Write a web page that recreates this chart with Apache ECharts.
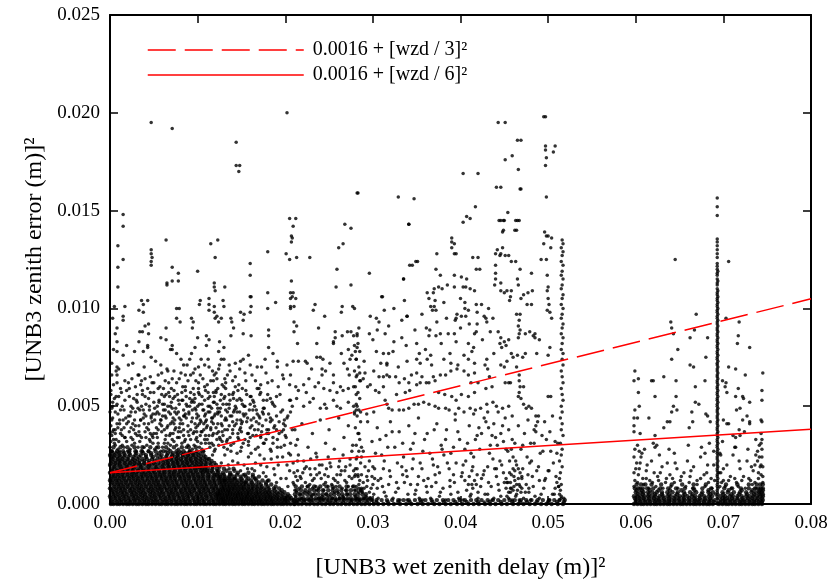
<!DOCTYPE html>
<html>
<head>
<meta charset="utf-8">
<script src="https://cdn.jsdelivr.net/npm/echarts@6/dist/echarts.min.js"></script>
<style>
  html, body { margin: 0; padding: 0; background: #fff; }
  #chart { width: 832px; height: 581px; }
</style>
</head>
<body>
<div id="chart"></div>
<script>
// All coordinates below are stored in units of 1e-4:
// x = [UNB3 wet zenith delay (m)]^2, y = [UNB3 zenith error (m)]^2
const UNIT = 1e-4;

const xTickLabels = ['0.00', '0.01', '0.02', '0.03', '0.04', '0.05', '0.06', '0.07', '0.08'];
const yTickLabels = ['0.000', '0.005', '0.010', '0.015', '0.020', '0.025'];

// Reference curves (straight lines in squared-delay space), values at x = 0 and x = 0.08
const curveX = [0, 0.08];
const curveThird = [0.0016, 0.01049];   // 0.0016 + [wzd / 3]^2
const curveSixth = [0.0016, 0.00382];   // 0.0016 + [wzd / 6]^2

// Densely packed observations near the ground, low-delay group: [y, [x, x, ...]]
const groundLow = [
  [0, [1,4,8,11,15,19,22,26,30,33,37,41,44,48,52,56,59,63,66,70,74,77,81,85,88,92,96,99,103,107,110,114,118,121,125,129,132,136,140,143,147,151,154,158,162,165,169,173,176,180,184,187,191,195,198,202,206,210]],
  [1, [3,8,13,18,23,28,34,39,44,49,54,60,65,70,76,81,86,91,97,102,107,113,118,123,126,129,131,134,137,140,143,146,149,152,155,158,161,164,167,170,173,177,180,184,187,191,195,199,203,210]],
  [2, [2,6,10,13,17,21,24,28,31,35,39,42,46,50,53,57,61,64,68,72,75,79,83,86,90,94,97,101,105,108,112,116,119,123,127,130,134,138,141,145,149,152,156,160,163,167,171,174,178,182,185,189,193,197,200,204,208]],
  [3, [1,6,11,16,21,27,32,37,42,47,52,58,63,68,73,79,84,89,95,100,105,110,116,121,124,127,129,132,135,138,141,144,147,150,153,156,159,162,165,169,172,176,179,183,186,190,193,197,200,204,207]],
  [4, [0,4,7,11,15,18,22,26,29,33,37,40,44,48,51,55,58,62,66,69,73,77,80,84,88,91,95,99,102,106,110,113,117,121,124,128,132,135,139,143,146,150,154,157,161,165,168,172,176,180,183,187,191,196,201,205]],
  [5, [4,9,14,19,25,30,35,40,46,51,56,61,67,72,77,83,88,93,99,104,109,115,120,123,125,128,131,134,137,140,143,146,149,152,156,159,163,167,171,175,179,183,188,192,197,203]],
  [6, [2,5,9,13,16,20,24,27,31,35,38,42,46,49,53,57,60,64,68,71,75,79,82,86,90,93,97,101,104,108,112,115,119,123,126,130,134,137,141,145,148,152,156,159,163,167,170,174,178,181,185,190,194,199]],
  [7, [2,7,12,17,23,28,33,38,44,49,54,59,65,70,75,81,86,91,96,102,107,112,118,123,126,129,132,135,138,142,146,150,154,158,162,167,172,177,182,188,196]],
  [8, [0,3,7,11,14,18,22,25,29,33,36,40,44,47,51,55,58,62,65,69,73,76,80,84,87,91,95,98,102,106,109,113,117,120,124,128,131,135,139,142,146,150,153,157,161,164,168,172,176,181,187,193]],
  [9, [5,10,15,20,26,31,36,41,47,52,57,62,68,73,78,84,89,94,100,105,110,116,121,127,130,134,137,141,145,149,153,158,163,168,173,180,189]],
  [10, [1,5,9,12,16,20,23,27,31,34,38,42,45,49,53,56,60,64,67,71,75,78,82,86,89,93,97,100,104,108,111,115,119,122,126,130,133,137,141,144,148,152,155,159,163,167,172,178,184]],
  [11, [3,8,13,18,24,29,34,39,45,50,55,61,66,71,76,82,87,92,98,103,108,114,119,125,128,132,136,140,145,150,155,162,170,178]],
  [12, [0,3,7,10,14,18,21,25,29,32,36,40,43,47,51,54,58,62,65,69,73,76,80,84,87,91,95,98,102,106,109,113,117,120,124,128,131,135,139,143,147,151,156,161,167,174,181]],
  [13, [1,6,11,16,22,27,32,37,43,48,53,59,64,69,74,80,85,90,96,101,106,112,118,124,127,131,135,139,143,150,158,166]],
  [14, [2,5,9,13,16,20,24,27,31,35,38,42,46,49,53,57,60,64,68,71,75,79,82,86,90,93,97,101,104,108,112,115,119,123,126,131,136,142,149,155,163,170]],
  [15, [4,9,14,20,25,30,36,41,46,52,57,62,68,73,78,84,89,95,100,106,112,119,122,126,130,137,145,154,163]],
  [16, [0,4,7,11,15,18,22,26,29,33,37,40,44,48,51,55,59,62,66,70,73,77,81,84,88,92,95,99,103,106,110,114,118,123,129,137,146,158]],
  [17, [2,8,14,20,26,32,38,44,50,56,62,68,74,80,86,92,98,104,108,111,116,124,133,142]],
  [18, [2,5,9,13,16,20,24,27,31,35,38,42,46,50,53,57,61,64,68,72,75,79,83,86,90,94,97,101,105,108,112,117,122,130,141]],
  [19, [5,12,19,27,35,44,53,60,67,73,79,85,91,97,101,104,109,117,125]],
  [20, [0,4,8,11,15,19,22,26,30,34,37,41,45,48,52,57,61,65,68,72,76,79,83,87,90,94,98,102,106,110,115,121]],
  [21, [1,6,11,17,23,28,33,39,44,50,55,61,66,72,77,83,88,94,99,104,109,114,119]],
  [22, [2,6,10,13,17,21,25,29,34,39,45,51,58,63,67,71,75,78,82,86,90,93,97,101,105,110,116]],
  [23, [3,9,14,20,26,31,37,42,48,54,60,65,70,76,81,87,92,98,103,108,113]],
  [24, [1,4,8,12,16,21,27,33,41,49,57,64,70,74,78,83,87,91,95,99,104,109]],
  [25, [0,5,11,17,23,29,35,41,47,53,59,65,71,77,83,89,95,101,107]],
  [26, [3,7,11,16,22,30,38,47,56,66,72,77,81,86,90,94,98,103]],
  [27, [2,8,15,22,29,36,44,52,61,69,76,84,91,99,106]],
  [29, [4,12,20,28,37,46,55,64,73,82,90,98]]
];

// Ground observations, middle group
const groundMid = [
  [0, [211,215,219,224,228,233,237,242,246,251,255,260,264,269,273,278,282,287,291,296,301,306,312,318,324,331,338,344,351,357,363,370,376,383,389,396,402,409,415,421,428,434,440,447,453,460,466,472,479,485,492,498,504,511,517]],
  [1, [213,221,230,239,248,257,266,275,284,293,304,317,329,342,355,368,381,394,407,420,433,446,459,468,476,487,500,510,518]],
  [2, [210,214,218,222,227,231,235,240,244,249,253,258,262,267,271,276,280,285,289,294,298,304,310,316,322,329,335,341,348,354,360,367,373,380,386,392,399,405,412,418,424,431,437,443,450,456,462,469,475,481,488,494,501,507,513,519]],
  [3, [212,217,221,226,230,235,239,244,248,253,257,262,266,271,275,280,284,289,293,297]],
  [5, [211,216,220,225,229,234,238,243,247,252,256,261,265,270,274,279,283,288,292]],
  [7, [213,218,223,228,233,238,243,249,254,259,264,270,275,281,287]],
  [9, [212,219,226,233,240,247,254,262,270,278]]
];

// Ground observations, high-delay group
const groundHigh = [
  [0, [598,602,606,609,613,617,621,624,628,632,636,639,643,647,651,654,658,662,666,669,673,677,681,684,688,695,699,703,706,710,714,718,721,725,729,733,736,740,744]],
  [1, [600,605,611,616,622,627,633,638,644,650,655,661,667,672,678,684,689,697,702,708,713,719,724,730,735,740,744]],
  [2, [600,604,608,611,615,619,623,626,630,634,638,641,645,649,653,656,660,664,668,671,675,679,683,686,690,697,701,705,708,712,716,720,723,727,731,735,738,742,745]],
  [3, [599,604,609,615,621,626,632,638,644,649,655,661,667,673,679,685,699,704,710,716,722,728,733,739,744]],
  [4, [598,602,606,610,614,618,622,627,631,636,640,645,650,654,659,664,668,673,678,683,687,697,702,707,711,716,721,726,730,734,738,742,745]],
  [5, [602,608,615,622,630,638,647,656,665,675,685,700,709,718,727,735,741,745]],
  [6, [600,605,609,614,619,624,630,636,642,648,655,662,669,676,683,688,699,705,712,719,726,732,737,741,744]],
  [7, [601,607,616,626,639,652,667,683,706,721,733,741,745]],
  [8, [599,603,608,613,620,628,637,646,656,666,676,686,701,710,720,729,736,740,743,745]],
  [10, [601,606,611,618,629,641,653,666,680,703,716,729,738,742,745]]
];

// Scattered observations, low-delay group: x, y, x, y, ...
const scatterLow = [
  0,29, 5,31, 9,28, 14,30, 19,32, 23,28, 28,31, 32,29, 37,27, 42,30, 46,32, 51,28, 55,31, 60,29, 64,27, 69,30, 73,32, 78,28, 82,31, 87,29, 91,27, 96,30, 100,32, 105,28, 109,31, 114,29, 119,27, 124,30, 128,32, 134,28, 141,31, 149,27, 158,30, 166,28, 175,31, 184,27, 195,29, 204,26,
  2,35, 7,33, 12,36, 17,34, 22,37, 26,33, 31,35, 36,34, 40,37, 45,33, 50,36, 54,34, 59,37, 63,33, 68,35, 72,36, 77,34, 81,37, 86,33, 90,35, 95,36, 99,34, 104,37, 108,33, 113,35, 118,36, 122,33, 129,35, 137,34, 146,36, 154,33, 163,35, 172,34, 181,36, 191,33, 200,35,
  1,40, 6,38, 11,41, 16,39, 21,42, 27,38, 33,40, 39,41, 44,38, 48,42, 53,39, 57,41, 62,38, 66,40, 71,42, 75,39, 80,41, 84,38, 89,40, 93,42, 98,39, 102,41, 107,38, 111,40, 116,42, 121,39, 127,41, 134,38, 142,40, 151,42, 160,39, 170,41, 179,38, 188,40, 198,41,
  3,44, 9,46, 15,43, 21,45, 29,47, 35,43, 41,45, 47,44, 52,46, 58,43, 63,45, 67,47, 72,44, 76,46, 81,43, 85,45, 90,47, 94,44, 99,46, 103,43, 108,45, 112,47, 117,44, 123,46, 131,43, 139,45, 148,47, 157,44, 168,46, 178,43, 190,45, 202,44,
  2,49, 8,51, 16,48, 24,50, 31,52, 38,48, 45,50, 51,49, 56,52, 61,48, 66,50, 70,52, 75,49, 79,51, 84,48, 88,50, 93,52, 97,49, 102,51, 107,48, 112,50, 118,52, 126,49, 133,51, 142,48, 153,50, 164,52, 175,49, 186,51, 197,48, 208,50,
  5,54, 13,57, 22,55, 30,53, 37,56, 44,54, 50,57, 56,53, 62,55, 67,57, 72,54, 77,56, 82,53, 87,55, 92,57, 97,54, 102,56, 108,53, 114,55, 121,57, 130,54, 140,56, 150,53, 161,55, 172,57, 183,54, 194,56, 205,53,
  4,61, 12,59, 21,62, 29,60, 36,63, 43,59, 50,62, 57,60, 63,63, 70,59, 76,62, 83,60, 89,63, 95,59, 101,62, 108,60, 115,63, 123,59, 132,62, 143,60, 155,63, 168,59, 180,62, 192,60,
  92,33, 96,37, 99,44, 103,35, 106,48, 110,39, 113,31, 116,44, 119,52, 122,36, 125,47, 128,40, 131,55, 134,33, 137,45, 140,38, 143,50, 146,34, 149,43, 152,31, 96,52, 101,57, 107,41, 112,54, 117,35, 121,58, 126,33, 132,48, 138,30, 144,41, 150,37, 155,46, 158,32, 162,40, 167,35, 171,44, 176,31, 181,38, 186,34, 191,29, 196,37, 84,35, 79,44, 74,38, 69,46, 64,35, 58,43, 53,36, 47,45, 41,34, 35,43, 29,36, 23,45, 17,34, 11,43, 6,36,
  122,17, 127,21, 131,25, 136,18, 140,22, 145,26, 149,17, 153,20, 158,24, 162,18, 166,21, 171,25, 175,16, 179,19, 184,23, 188,15, 192,20, 197,24, 201,13, 205,17, 209,11, 213,6, 216,2, 212,14, 139,15, 152,15, 165,17, 178,14, 190,11, 203,9,
  9,111, 65,112, 71,114, 119,113, 119,111, 131,111, 206,108, 17,101, 15,96, 15,94, 8,90, 8,83, 8,78, 8,70, 8,66, 8,62, 36,104, 38,102, 43,104, 33,99, 38,98, 44,92, 40,91, 37,88, 34,88, 33,83, 44,87, 64,90, 64,84, 76,100, 79,100, 76,95, 80,93, 69,79, 71,79, 58,71, 65,69, 43,80, 47,75, 58,85,
  93,95, 95,93, 94,90, 102,102, 103,104, 113,105, 113,102, 113,99, 119,101, 119,98, 120,95, 122,96, 129,104, 130,101, 127,95, 124,93, 138,95, 139,93, 149,98, 153,97, 152,94, 161,106, 161,101, 160,98, 180,108, 180,100, 189,103, 206,105, 206,101, 210,101, 210,93, 210,88, 181,89, 181,86, 161,86, 152,87, 141,90, 138,86, 125,83, 130,80, 124,78, 113,84, 110,81, 110,86, 100,85, 97,80, 93,77, 81,74, 76,77, 71,81, 43,81, 38,78, 28,78, 19,81, 15,76, 21,71,
  25,64, 32,66, 35,61, 40,64, 48,62, 55,66, 61,59, 66,68, 71,64, 84,71, 86,66, 91,74, 97,69, 103,66, 108,71, 113,70, 119,66, 125,71, 130,74, 137,68, 143,72, 148,69, 152,74, 158,76, 162,66, 168,70, 173,70, 177,74, 181,80, 186,77, 191,70, 197,66, 202,71, 209,73, 215,58,
  15,148, 15,142, 9,132, 15,125, 9,121, 47,130, 47,128, 48,126, 47,124, 47,122, 64,135, 71,121, 65,113, 78,118, 78,114, 100,119, 115,133, 123,135, 120,126, 120,109, 160,123, 160,117, 160,106, 180,129, 205,146, 209,142, 208,136, 205,125, 201,128, 207,114, 208,106,
  47,195, 71,192, 144,185, 144,173, 148,173, 147,170, 202,200, 3,95, 6,87, 4,79, 2,72, 7,68, 5,101,
  1,32, 4,38, 2,43, 0,47, 3,52, 1,56, 0,36, 2,27, 10,32, 26,41, 34,48, 48,35, 56,46, 62,51, 66,31, 73,41, 79,34, 86,46, 91,50, 100,40, 104,31, 109,42, 115,39, 118,30, 120,46, 124,37, 129,51, 133,43, 136,56, 141,47, 145,53, 148,38, 151,59, 156,42, 160,51, 164,44, 169,38, 174,47, 178,33, 183,42, 188,50, 193,36, 199,43, 206,31, 211,38
];

// Further low-delay observations filling the central mound and its flanks
const scatterLowMound = [
  2,27, 6,30, 11,27, 16,29, 20,27, 25,30, 30,27, 34,32, 39,29, 44,27, 49,31, 53,29, 58,27, 62,31, 67,28, 71,33, 76,30, 80,27, 85,32, 89,30, 94,28, 98,33, 102,29, 107,27, 111,33, 116,31, 120,28, 125,34, 130,29, 117,25, 112,23,
  3,37, 8,41, 13,38, 18,44, 24,39, 28,43, 33,37, 38,44, 42,39, 46,36, 51,43, 55,38, 60,45, 65,39, 69,36, 74,43, 78,37, 83,41, 87,44, 92,38, 97,41, 101,45, 105,37, 110,43, 115,38, 119,45, 123,41, 128,37, 132,44, 136,40, 140,36, 145,43, 149,39, 153,45, 157,36, 161,43, 165,38, 170,45, 174,40, 179,36, 183,44, 187,39, 193,42, 198,38, 203,45,
  71,49, 74,55, 78,47, 83,53, 86,58, 90,46, 94,53, 98,48, 101,59, 105,51, 109,46, 112,57, 116,49, 119,55, 123,47, 126,53, 130,60, 134,47, 137,53, 141,57, 144,49, 148,54, 152,46, 156,56, 159,48, 163,53, 167,48, 171,56, 175,46, 179,53,
  1,58, 6,47, 10,55, 14,50, 19,58, 24,47, 27,54, 32,49, 37,58, 41,51, 46,57, 49,46, 54,50, 59,56, 63,48, 68,55,
  2,66, 10,69, 17,63, 26,72, 33,66, 39,70, 46,65, 52,73, 59,67, 67,62, 73,68, 79,64, 86,60, 92,66, 98,63, 104,74, 111,61, 117,68, 122,64, 128,61, 134,66, 140,63, 147,61, 154,67, 160,71, 166,63, 172,61, 178,67, 185,63, 191,73, 198,64, 205,61,
  131,12, 135,20, 138,27, 142,13, 146,21, 150,29, 154,11, 157,18, 161,26, 165,13, 169,29, 172,20, 176,23, 180,12, 183,28, 187,18, 191,24, 195,13, 199,30, 202,20, 206,25, 210,16, 214,22, 133,32, 147,33, 160,34, 173,37, 186,31, 201,34, 212,30,
  4,33, 9,39, 14,35, 19,41, 24,34, 29,40, 34,35, 39,46, 44,41, 49,34, 54,47, 59,40, 64,44, 69,41, 74,47, 79,39, 84,45, 89,37, 94,48, 99,37, 104,42, 109,35, 114,47, 118,41, 123,49, 127,45, 131,38, 136,49, 140,42, 145,47, 150,41, 154,50, 158,36, 163,48, 167,42, 172,35, 176,49, 181,46, 185,43, 190,38, 195,47, 200,40, 206,47,
  3,50, 7,55, 12,48, 17,53, 22,59, 26,49, 31,56, 36,50, 40,55, 45,48, 50,52, 55,59, 60,51, 64,56, 69,50, 73,58, 78,53, 82,57, 87,51, 91,54, 96,56, 100,50, 105,55, 109,58, 114,50, 118,57, 122,51, 127,56, 132,59, 136,51, 141,54, 146,58, 151,51, 155,58, 160,55, 165,50, 170,59, 175,53, 180,56, 185,52, 190,55,
  81,67, 88,71, 95,67, 101,70, 106,64, 112,74, 118,63, 124,69, 131,64, 136,71, 143,65, 149,73, 121,67, 127,74
];

// Scattered observations, middle group
const scatterMid = [
  212,4, 216,8, 219,3, 223,11, 226,6, 229,15, 232,5, 235,9, 238,3, 241,13, 244,7, 247,18, 250,4, 253,10, 256,6, 259,15, 262,3, 265,8, 268,12, 271,5, 274,20, 277,9, 280,4, 283,14, 286,7, 289,11, 292,4, 295,17, 298,8, 301,5, 214,17, 221,22, 228,10, 236,24, 243,2, 251,21, 258,9, 266,25, 273,14, 281,23, 288,6, 296,22, 302,13, 218,13, 224,19, 231,8, 239,16, 246,11, 254,3, 261,19, 269,7, 276,27, 284,10, 291,19, 299,2,
  210,10, 213,1, 217,14, 222,6, 227,2, 231,12, 234,18, 238,8, 242,4, 245,15, 249,9, 252,1, 257,12, 260,6, 264,17, 267,3, 270,11, 275,2, 279,7, 282,18, 285,2, 290,8, 294,12, 297,3, 300,10,
  306,3, 311,9, 315,4, 320,14, 326,6, 331,2, 336,11, 340,5, 345,18, 349,7, 353,3, 358,12, 362,6, 367,9, 371,15, 376,4, 380,8, 385,21, 389,5, 393,11, 398,3, 402,16, 407,7, 411,4, 416,12, 420,6,
  424,13, 428,5, 431,19, 435,9, 438,3, 441,14, 444,7, 447,20, 450,11, 453,4, 456,16, 458,8, 460,24, 462,12, 464,5, 466,18, 468,9, 470,14, 472,3, 475,10, 478,6, 481,22, 485,4, 490,12, 495,8, 500,17, 505,5, 510,11, 515,3, 455,3, 457,6, 459,2, 461,9, 463,4, 465,7, 467,2, 469,6, 454,11, 458,15, 462,17, 466,13, 470,8,
  208,38, 214,33, 219,41, 226,29, 231,36, 235,26, 240,43, 246,31, 250,38, 256,28, 261,44, 267,34, 272,40, 277,30, 284,36, 289,27, 294,42, 299,32, 305,39, 310,25, 315,35, 320,42, 325,29, 330,37, 335,24, 341,40, 346,31, 352,44, 357,27, 362,36, 368,23, 373,41, 378,30, 384,38, 389,26, 394,43, 399,33, 405,28, 410,40, 415,24, 419,35,
  303,26, 308,33, 312,18, 317,29, 322,37, 328,21, 334,31, 338,17, 343,28, 348,36, 354,21, 359,33, 365,26, 370,38, 374,19, 379,28, 383,33, 387,18, 392,29, 397,37, 403,20, 408,31, 412,26, 417,33, 422,28, 426,15, 433,26, 436,35, 445,22, 448,40, 452,28, 459,33, 471,30, 476,24, 484,31, 489,19, 494,27, 497,13,
  209,21, 215,25, 222,18, 229,23, 236,15, 242,20, 249,24, 255,13, 262,22, 268,17, 274,23, 280,15, 287,24, 293,14, 300,19, 306,12, 313,22, 319,17, 327,11, 333,19, 339,14, 346,23, 351,10, 356,18, 363,13, 369,20, 376,16, 381,25, 388,12, 395,21, 401,14, 406,22, 413,17, 418,10,
  211,7, 214,12, 217,5, 220,16, 223,2, 225,9, 228,18, 230,4, 233,13, 236,7, 239,20, 241,3, 244,10, 247,5, 249,14, 252,19, 255,8, 258,2, 260,11, 263,15, 266,4, 269,19, 272,9, 276,13, 278,17, 281,2, 284,8, 287,15, 290,3, 293,9, 296,6, 299,14, 302,18, 305,8, 309,13, 313,6, 318,10, 323,3, 329,8, 334,15, 339,2, 343,10, 348,5, 352,14, 357,2, 361,9, 366,3, 372,11, 377,6, 383,2, 388,9, 392,15, 397,6, 403,2, 409,10, 414,8, 419,15, 423,9, 427,17, 432,11, 436,2, 439,18, 446,4, 449,16, 452,8, 457,11, 461,14, 463,22, 467,10, 471,18, 474,6, 477,15, 480,2, 483,9, 487,17, 492,5, 496,12, 502,2, 508,8, 513,5, 518,3,
  300,84, 304,95, 309,72, 318,91, 324,83, 329,70, 333,94, 338,81, 344,66, 348,89, 356,97, 360,79, 367,71, 373,93, 378,82, 384,95, 388,77, 395,83, 400,90, 404,76, 410,92, 415,80, 420,62, 425,84, 428,71, 434,88, 436,60, 438,77,
  424,36, 427,44, 434,30, 438,41, 446,36, 451,44, 455,38, 459,45, 462,31, 466,40, 469,28, 473,36, 477,43, 480,31, 484,38, 489,45, 493,35, 496,42, 502,37, 505,45, 508,32,
  283,159, 347,156, 417,152, 212,146, 411,146, 268,143, 275,141, 341,143, 207,137, 207,134, 266,133, 261,131, 390,134, 390,131, 213,126, 228,126, 373,128, 414,126, 342,122, 349,124, 259,120, 296,118, 372,120, 377,117, 418,120, 335,115, 393,117, 258,111, 275,112, 311,106, 209,108, 212,105, 206,100, 234,102, 232,99, 265,101, 277,101, 279,100,
  369,108, 371,104, 370,101, 372,99, 379,110, 393,111, 403,111, 411,110, 416,109, 405,100, 409,99, 419,98, 297,96, 307,93, 305,89, 339,96, 213,91, 238,90, 245,96, 264,98, 257,88, 257,85, 265,86, 271,88, 275,88, 278,86, 282,87, 296,87, 314,87, 333,85, 350,82, 353,77, 361,90, 365,89, 372,86, 364,86, 377,87, 386,87, 393,87, 416,87, 418,88, 409,82, 413,78,
  214,82, 236,82, 240,75, 236,75, 243,74, 255,83, 255,82, 272,79, 274,74, 276,76, 279,81, 280,78, 282,80, 281,74, 264,77, 290,73, 304,78, 312,77, 316,72, 318,77, 316,71, 323,78, 339,73, 350,74, 354,72, 362,74, 366,76, 381,74, 389,72, 397,71, 404,68, 409,74, 416,72,
  215,73, 223,73, 225,72, 230,69, 242,69, 246,68, 251,72, 255,66, 267,72, 271,69, 273,66, 279,68, 281,65, 285,67, 291,67, 301,68, 307,65, 312,65, 316,66, 326,65, 330,62, 336,64, 341,62, 350,67, 354,62, 361,62, 369,65, 377,66, 383,66, 389,68, 396,69, 409,66, 416,67,
  206,66, 212,60, 221,61, 227,64, 224,57, 234,60, 238,62, 242,66, 244,59, 251,58, 255,62, 259,57, 263,60, 266,58, 272,59, 278,60, 281,56, 285,63, 289,64, 294,60, 297,61, 303,58, 307,57, 312,60, 319,65, 327,56, 337,57, 342,58, 350,61, 356,65, 364,62, 371,63, 375,57, 382,56, 390,55, 395,53, 401,56, 409,55, 416,57,
  206,53, 213,54, 221,50, 228,52, 232,54, 240,49, 245,51, 247,49, 255,53, 259,50, 263,49, 272,52, 278,50, 282,50, 279,46, 281,48, 286,47, 293,46, 301,47, 314,53, 316,51, 318,49, 322,48, 330,48, 335,48, 341,49, 347,51, 352,51, 358,52, 364,51, 371,50, 375,49, 383,49, 387,48, 394,46, 398,49, 404,47, 411,49, 417,48, 423,49,
  403,169, 341,143, 407,147, 444,145, 449,145, 449,140, 463,145, 467,145, 462,140, 390,136, 393,133, 345,122, 351,124, 335,115, 393,128, 395,128, 401,116, 422,120, 420,126, 310,106, 313,99, 324,100, 336,104, 339,96, 362,108, 364,105, 366,101, 368,99, 370,110, 375,111, 381,103, 385,112, 400,105, 405,103, 406,111, 407,115, 401,96, 406,96, 396,97, 395,95, 394,94,
  495,198, 451,195, 469,186, 497,183, 497,181, 498,177, 497,173, 451,176, 466,171, 468,161, 469,161, 446,162, 498,157, 446,145, 450,145, 448,139, 465,145, 464,140, 496,139, 498,137, 500,137, 504,136, 495,133, 503,131, 442,130, 440,128, 445,127, 448,131, 446,128, 451,127, 455,127, 458,124, 463,124, 492,125, 498,125, 481,118, 499,117, 440,122, 440,118, 440,115, 439,112, 446,113, 465,115, 466,112, 468,120,
  446,109, 450,108, 453,109, 457,106, 456,104, 458,109, 469,105, 472,107, 477,108, 482,109, 476,102, 481,102, 500,111, 499,109, 500,105, 501,102, 418,102, 424,102, 432,100, 427,96, 429,95, 430,93, 437,95, 419,92, 464,97, 468,97, 467,94, 466,91, 468,89, 467,87, 466,85, 502,98, 504,95, 499,99, 474,87, 479,88, 483,86, 485,85, 490,84, 443,88, 446,85, 445,82, 447,80, 450,83, 452,81, 455,84, 458,77, 460,75, 465,76, 471,75, 474,77, 487,77, 485,87, 502,80, 500,76,
  430,74, 431,69, 433,65, 446,71, 450,70, 453,73, 451,62, 455,62, 457,62, 464,70, 467,66, 467,63, 468,60, 472,60, 467,57, 466,55, 469,54, 472,51, 475,49, 478,50, 481,49, 486,45, 488,42, 500,55, 503,55, 486,40, 486,37, 412,62, 429,59, 430,51, 431,47, 437,52, 441,50, 443,47, 448,49, 455,50, 415,46, 429,42, 432,39, 421,39,
  440,34, 442,30, 449,32, 454,27, 458,28, 456,22, 460,18, 464,20, 468,16, 470,13, 464,10, 460,7, 457,8, 453,11, 479,21, 482,14, 478,8, 491,26, 490,3, 414,19, 410,14, 413,10, 405,12, 412,5, 420,3, 427,1, 431,5, 437,23, 441,18, 443,10, 452,13, 455,6, 498,33, 503,27, 506,21, 509,14, 512,9, 501,17, 507,5,
  497,198, 508,183, 506,180, 465,186, 459,178, 443,195, 420,169, 441,162, 454,149, 329,157, 282,159, 403,144
];

// Near-vertical stack of observations around x = 0.0283
const stackNear283 = [
  282,3, 284,6, 281,9, 285,12, 283,15, 280,18, 286,21, 282,24, 284,27, 281,30, 285,33, 283,36, 280,39, 286,42, 282,45, 284,48, 281,51, 285,54, 283,57, 280,60, 286,63, 282,66, 284,70, 281,74, 285,78, 283,82, 282,86, 284,90, 287,8, 279,14, 287,29, 279,47
];

// Vertical stack of observations around x = 0.0517
const stackNear517 = [
  516,135, 517,133, 515,131, 517,129, 516,127, 515,124, 517,122, 516,119, 515,117, 517,115, 516,112, 515,110, 517,107, 516,105, 515,102, 517,100, 516,97, 515,95, 517,92, 516,90, 515,87, 517,85, 516,82, 515,79, 517,77, 516,74, 517,71, 515,68, 516,65, 517,62, 515,59, 516,56, 517,53, 515,50, 516,47, 514,44, 516,41, 515,38, 517,35, 514,31, 516,28, 515,25, 513,22, 516,19, 514,16, 513,13, 515,10, 514,7, 515,4, 513,2, 510,26, 511,31, 512,9
];

// Scattered observations, high-delay group
const scatterHigh = [
  599,12, 603,15, 600,18, 605,21, 598,24, 604,27, 602,30, 608,13, 612,17, 607,26, 616,12, 621,16, 618,22, 625,14, 630,19, 627,25, 634,11, 639,15, 636,21, 642,13, 647,18, 644,26, 651,12, 655,16, 659,22, 662,14, 666,19, 670,12, 674,24, 678,15, 682,20, 686,13, 689,27, 697,16, 700,12, 704,20, 708,14, 711,25, 715,11, 719,18, 723,14, 727,22, 731,12, 734,17, 737,25, 740,13, 742,19, 744,28, 739,22, 743,15, 745,11, 736,11, 741,30, 744,24, 610,28, 622,29, 638,28, 660,30, 675,29, 696,26, 714,29, 728,28, 690,12, 696,9, 689,20, 697,25, 691,5, 695,16,
  598,9, 602,11, 605,8, 609,10, 612,13, 615,8, 619,11, 623,9, 626,12, 631,8, 635,13, 640,9, 644,11, 648,8, 652,14, 657,9, 661,11, 665,8, 670,10, 674,13, 679,9, 683,11, 687,8, 698,11, 702,9, 706,12, 709,8, 713,13, 717,9, 721,12, 725,8, 729,13, 733,10, 737,8, 740,16, 743,20, 745,14, 598,16, 601,21, 604,18, 606,24, 599,28, 736,20, 739,27, 741,24, 745,19, 743,31, 613,20, 628,16, 645,21, 663,17, 681,16, 700,18, 718,22, 732,19,
  599,68, 598,63, 603,64, 603,57, 604,50, 599,48, 598,44, 602,44, 598,40, 598,37, 605,36, 615,44, 618,63, 620,63, 622,55, 632,65, 640,93, 641,90, 643,87, 645,125, 648,79, 641,74, 646,63, 646,55, 641,47, 643,50, 647,48, 639,42, 636,42, 632,39, 622,35, 620,31, 624,30, 662,71, 666,70, 669,97, 667,89, 662,85, 682,85, 680,75, 679,63, 668,60, 668,52, 672,51, 664,47, 665,42, 661,39, 680,46, 682,45, 685,42, 684,31, 679,26,
  706,124, 703,95, 718,93, 717,86, 716,82, 730,80, 706,70, 714,69, 725,66, 699,63, 703,62, 702,60, 704,57, 717,59, 714,55, 722,55, 723,54, 730,52, 719,49, 715,48, 727,45, 722,43, 730,42, 743,43, 744,42, 744,53, 744,58, 745,67, 700,43, 706,41, 704,41, 718,38, 724,37, 730,41, 743,36, 714,34, 699,32, 711,35, 719,35, 744,33, 713,29, 737,33
];

// Vertical stack at x = 0.0693: y values
const stackAt693 = [
  0,1,3,4,6,7,9,10,12,14,15,17,18,20,21,23,24,26,27,29,30,32,33,35,36,38,39,41,42,44,45,47,48,50,51,53,54,56,57,59,60,62,63,65,66,68,69,71,72,74,75,77,78,80,81,83,84,86,87,89,90,92,93,95,96,98,99,101,102,104,105,107,108,110,112,113,115,117,118,120,121.5,123,126,128,130,132,134,135.5,147.5,152,156.5
];
// Neighbouring stack at x = 0.06937: y values
const stackAt6937 = [
  0.5,2.5,5,8,11,13,16,19,22,25,28,31,34,37,40,43,46,49,52,55,58,61,64,67,70,73,76,79,82,85,88,91,94,97,100,103,106,109,114,119
];

function fromRows(rows) {
  const out = [];
  rows.forEach(([y, xs]) => xs.forEach(x => out.push([x * UNIT, y * UNIT])));
  return out;
}
function fromPairs(flat) {
  const out = [];
  for (let i = 0; i + 1 < flat.length; i += 2) out.push([flat[i] * UNIT, flat[i + 1] * UNIT]);
  return out;
}

// Ground bands are packed tightly; they are drawn with slightly larger dots so they read as solid
const groundObservations = [].concat(
  fromRows(groundLow), fromRows(groundMid), fromRows(groundHigh)
);
const observations = [].concat(
  fromPairs(scatterLow), fromPairs(scatterLowMound), fromPairs(scatterMid), fromPairs(scatterHigh),
  fromPairs(stackNear283), fromPairs(stackNear517),
  stackAt693.map(y => [0.0693, y * UNIT]),
  stackAt6937.map(y => [0.06937, y * UNIT])
);

const serif = '"Liberation Serif", "Times New Roman", serif';
const nameThird = '0.0016 + [wzd / 3]\u00B2';
const nameSixth = '0.0016 + [wzd / 6]\u00B2';

function xAxisBase(pos) {
  return {
    type: 'value', position: pos, min: 0, max: 0.08, interval: 0.01,
    axisLine: { show: true, onZero: false, lineStyle: { color: '#000', width: 2 } },
    axisTick: { show: true, inside: true, length: 8, lineStyle: { color: '#000', width: 1.5 } },
    splitLine: { show: false }
  };
}
function yAxisBase(pos) {
  return {
    type: 'value', position: pos, min: 0, max: 0.025, interval: 0.005,
    axisLine: { show: true, onZero: false, lineStyle: { color: '#000', width: 2 } },
    axisTick: { show: true, inside: true, length: 8, lineStyle: { color: '#000', width: 1.5 } },
    splitLine: { show: false }
  };
}

const chart = echarts.init(document.getElementById('chart'), null, { renderer: 'canvas' });
chart.setOption({
  animation: false,
  backgroundColor: '#fff',
  grid: { left: 110, right: 21, top: 15, bottom: 77, containLabel: false, outerBoundsMode: 'none' },
  legend: {
    data: [nameThird, nameSixth],
    orient: 'vertical', left: 142, top: 35,
    itemWidth: 156, itemHeight: 14, itemGap: 5,
    itemStyle: { opacity: 0 },
    lineStyle: { width: 1.5 },
    textStyle: { fontFamily: serif, fontSize: 20, color: '#000', padding: [0, 0, 0, 4] }
  },
  xAxis: [
    Object.assign(xAxisBase('bottom'), {
      name: '[UNB3 wet zenith delay (m)]\u00B2', nameLocation: 'middle', nameGap: 52,
      nameTextStyle: { fontFamily: serif, fontSize: 24, color: '#000' },
      axisLabel: {
        show: true, margin: 10, fontFamily: serif, fontSize: 19, color: '#000',
        formatter: v => xTickLabels[Math.round(v / 0.01)]
      }
    }),
    Object.assign(xAxisBase('top'), { axisLabel: { show: false } })
  ],
  yAxis: [
    Object.assign(yAxisBase('left'), {
      name: '[UNB3 zenith error (m)]\u00B2', nameLocation: 'middle', nameGap: 57,
      nameTextStyle: { fontFamily: serif, fontSize: 24, color: '#000' },
      axisLabel: {
        show: true, margin: 10, fontFamily: serif, fontSize: 19, color: '#000',
        formatter: v => yTickLabels[Math.round(v / 0.005)]
      }
    }),
    Object.assign(yAxisBase('right'), { axisLabel: { show: false } })
  ],
  series: [
    {
      type: 'scatter', name: 'ground', xAxisIndex: 0, yAxisIndex: 0,
      data: groundObservations, symbol: 'circle', symbolSize: 4.4,
      itemStyle: { color: '#000' }, large: false, progressive: 0, silent: true, z: 2
    },
    {
      type: 'scatter', name: 'observations', xAxisIndex: 0, yAxisIndex: 0,
      data: observations, symbol: 'circle', symbolSize: 3.5,
      itemStyle: { color: '#000' }, large: false, progressive: 0, silent: true, z: 2
    },
    {
      type: 'line', name: nameThird, xAxisIndex: 0, yAxisIndex: 0,
      data: curveX.map((x, i) => [x, curveThird[i]]),
      symbol: 'none', lineStyle: { color: '#ff0000', width: 1.5, type: [28, 9] },
      itemStyle: { color: '#ff0000' }, z: 5
    },
    {
      type: 'line', name: nameSixth, xAxisIndex: 0, yAxisIndex: 0,
      data: curveX.map((x, i) => [x, curveSixth[i]]),
      symbol: 'none', lineStyle: { color: '#ff0000', width: 1.5, type: 'solid' },
      itemStyle: { color: '#ff0000' }, z: 5
    }
  ]
});
</script>
</body>
</html>
